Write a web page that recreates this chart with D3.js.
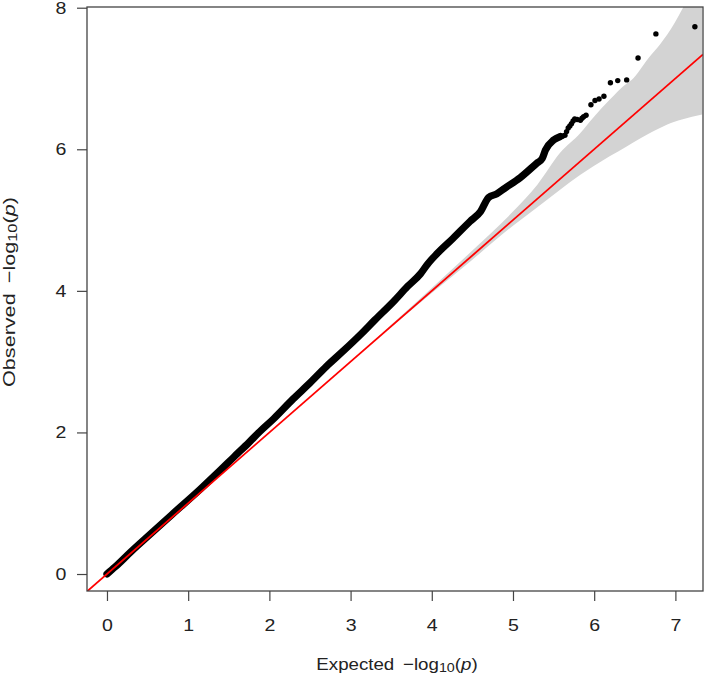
<!DOCTYPE html>
<html><head><meta charset="utf-8">
<script src="https://cdn.jsdelivr.net/npm/d3@7"></script>
<style>html,body{margin:0;padding:0;background:#fff;}svg{display:block;font-family:"Liberation Sans",Arial,sans-serif;}</style>
</head><body>
<svg id="chart" width="708" height="678"></svg>
<script>
// Dense part of the QQ curve (expected vs observed -log10 p)
const denseExpected = [0, 0.10, 0.30, 0.53, 0.80, 1.15, 1.40, 1.56, 1.75, 1.88, 2.05, 2.29, 2.50, 2.70, 2.90, 3.12, 3.30, 3.53, 3.70, 3.86, 3.95, 4.06, 4.26, 4.47, 4.60, 4.70, 4.80, 4.90, 5.09, 5.29, 5.36, 5.40, 5.50, 5.58];
const denseObserved = [0, 0.10, 0.32, 0.56, 0.84, 1.20, 1.47, 1.65, 1.86, 2.01, 2.19, 2.47, 2.70, 2.93, 3.14, 3.38, 3.59, 3.85, 4.06, 4.24, 4.38, 4.52, 4.74, 4.98, 5.12, 5.32, 5.37, 5.45, 5.60, 5.80, 5.87, 5.99, 6.13, 6.18];
// Sparse tail points
const tailExpected = [5.60, 5.62, 5.64, 5.66, 5.68, 5.70, 5.72, 5.74, 5.76, 5.79, 5.83, 5.85, 5.87, 5.90, 5.96, 6.01, 6.06, 6.12, 6.20, 6.29, 6.40, 6.54, 6.76, 7.24];
const tailObserved = [6.18, 6.19, 6.20, 6.25, 6.30, 6.33, 6.36, 6.40, 6.43, 6.42, 6.41, 6.44, 6.46, 6.48, 6.63, 6.69, 6.71, 6.75, 6.94, 6.97, 6.98, 7.29, 7.63, 7.73];
// Confidence band
const bandExpected = [3.0, 3.5, 4.0, 4.5, 5.0, 5.3, 5.58, 5.83, 5.99, 6.19, 6.40, 6.46, 6.67, 6.81, 6.90, 7.08, 7.33];
const bandUpper    = [3.0, 3.52, 4.04, 4.57, 5.12, 5.50, 5.95, 6.23, 6.45, 6.70, 6.93, 6.98, 7.29, 7.48, 7.62, 7.97, 8.60];
const bandLower    = [3.0, 3.49, 3.97, 4.44, 4.92, 5.18, 5.43, 5.64, 5.76, 5.90, 6.04, 6.08, 6.22, 6.30, 6.35, 6.42, 6.49];
const xTicks = [0, 1, 2, 3, 4, 5, 6, 7];
const yTicks = [0, 2, 4, 6, 8];
const xDomain = [-0.246, 7.34];
const yDomain = [-0.24, 8.01];

const svg = d3.select('#chart');
const L = 87, R = 703, T = 7, B = 591;
const x = d3.scaleLinear().domain(xDomain).range([L, R]);
const y = d3.scaleLinear().domain(yDomain).range([B, T]);

svg.append('clipPath').attr('id', 'clip').append('rect')
  .attr('x', L).attr('y', T).attr('width', R - L).attr('height', B - T);
const plot = svg.append('g').attr('clip-path', 'url(#clip)');

// band
const band = bandExpected.map((e, i) => ({e, u: bandUpper[i], l: bandLower[i]}));
plot.append('path').datum(band)
  .attr('fill', '#d3d3d3')
  .attr('d', d3.area().x(d => x(d.e)).y0(d => y(d.l)).y1(d => y(d.u)).curve(d3.curveMonotoneX));

// dense points drawn as a thick band
const dense = denseExpected.map((e, i) => ({e, o: denseObserved[i]}));
plot.append('path').datum(dense)
  .attr('fill', 'none').attr('stroke', '#000').attr('stroke-width', 7.2)
  .attr('stroke-linecap', 'round').attr('stroke-linejoin', 'round')
  .attr('d', d3.line().x(d => x(d.e)).y(d => y(d.o)).curve(d3.curveMonotoneX));
const tail = tailExpected.map((e, i) => ({e, o: tailObserved[i]}));
plot.selectAll('circle.t').data(tail).enter().append('circle')
  .attr('cx', d => x(d.e)).attr('cy', d => y(d.o)).attr('r', 2.7).attr('fill', '#000');

// y = x line
plot.append('line')
  .attr('x1', x(xDomain[0])).attr('y1', y(xDomain[0]))
  .attr('x2', x(xDomain[1])).attr('y2', y(xDomain[1]))
  .attr('stroke', '#ff0000').attr('stroke-width', 1.8);

// axes
const xAxis = svg.append('g').attr('transform', `translate(0,${B})`)
  .call(d3.axisBottom(x).tickValues(xTicks).tickFormat(d3.format('d')).tickSize(10).tickPadding(18));
const yAxis = svg.append('g').attr('transform', `translate(${L},0)`)
  .call(d3.axisLeft(y).tickValues(yTicks).tickFormat(d3.format('d')).tickSize(10).tickPadding(8));
[xAxis, yAxis].forEach(a => {
  a.select('.domain').remove();
  a.selectAll('line').attr('stroke', '#444').attr('stroke-width', 1.2);
  a.selectAll('text').attr('font-size', 17).attr('fill', '#222')
    .attr('font-family', '"Liberation Sans",Arial,sans-serif')
    .attr('transform', 'scale(1.15,1)');
});

// box
svg.append('rect').attr('x', L).attr('y', T).attr('width', R - L).attr('height', B - T)
  .attr('fill', 'none').attr('stroke', '#444').attr('stroke-width', 1.3);

function logTitle(sel, prefix) {
  sel.append('tspan').text(prefix);
  sel.append('tspan').attr('dx', 8).text('\u2212log');
  sel.append('tspan').attr('font-size', 13).attr('dy', 2).text('10');
  sel.append('tspan').attr('dy', -2).text('(');
  sel.append('tspan').attr('font-style', 'italic').text('p');
  sel.append('tspan').text(')');
}
const xt = svg.append('g').attr('transform', `translate(${(L + R) / 2 + 2},670) scale(1.1,1)`)
  .append('text').attr('text-anchor', 'middle').attr('font-size', 17).attr('fill', '#222');
logTitle(xt, 'Expected');
const yt = svg.append('g').attr('transform', `translate(15,292) rotate(-90) scale(1.27,1)`)
  .append('text').attr('text-anchor', 'middle').attr('font-size', 17).attr('fill', '#222');
logTitle(yt, 'Observed');
</script>
</body></html>
